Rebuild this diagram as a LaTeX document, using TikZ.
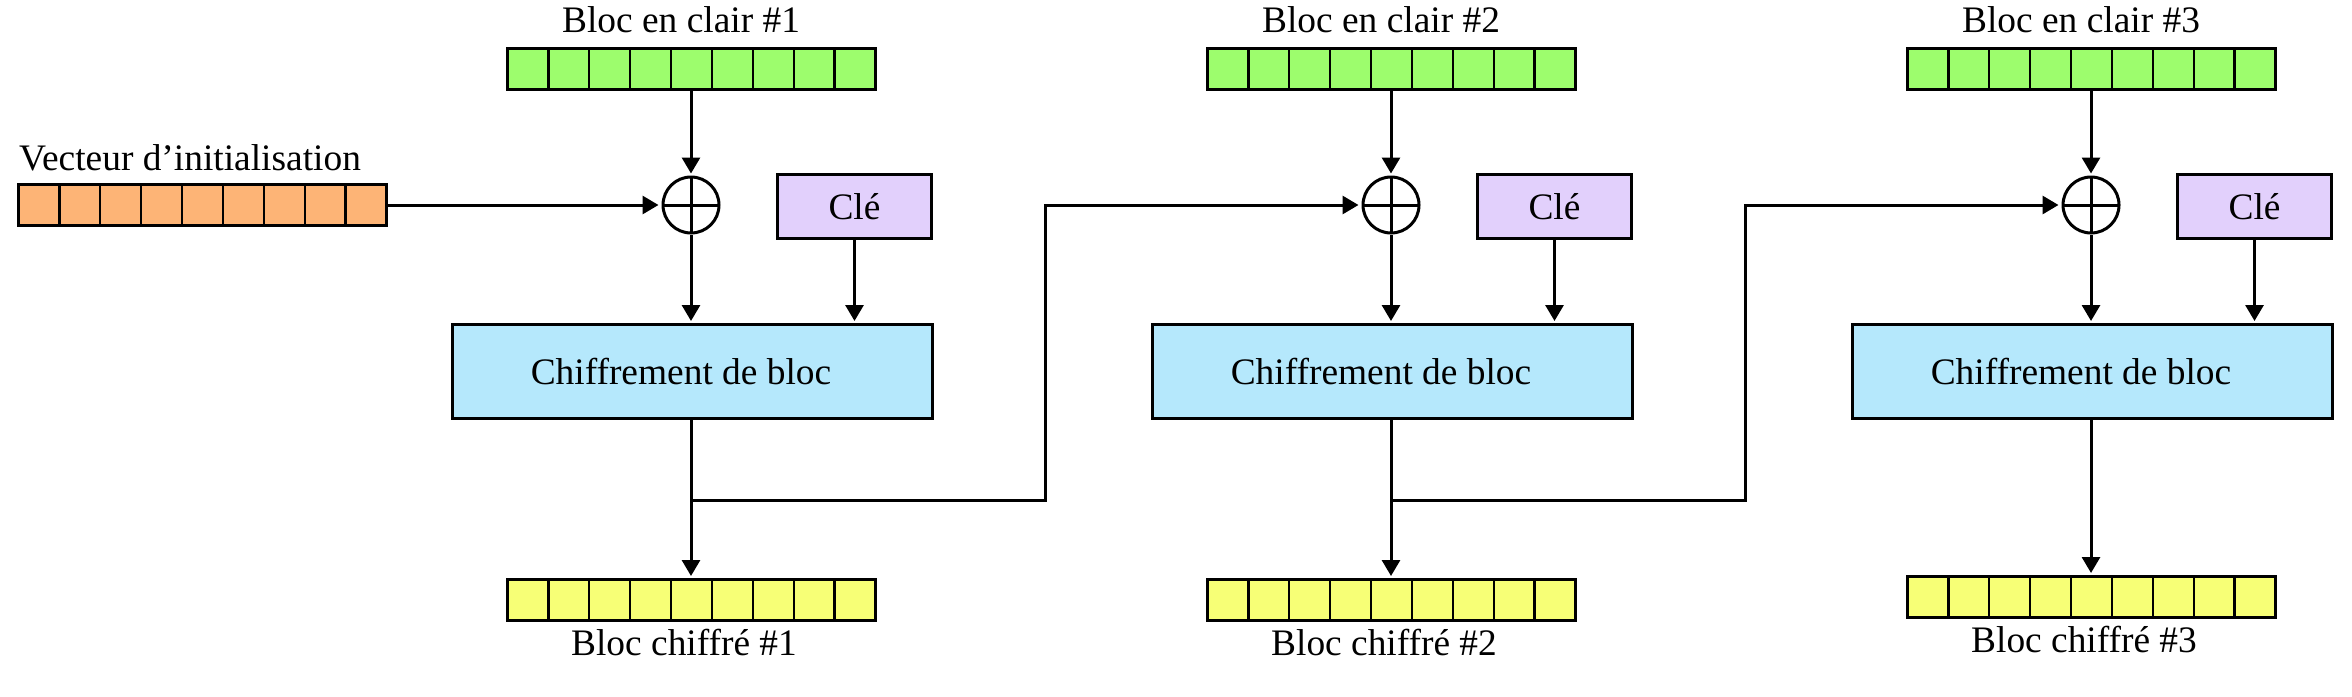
\documentclass[tikz,border=0pt]{standalone}
\usepackage{fontspec}
\setmainfont{Liberation Serif}
\usetikzlibrary{arrows.meta,calc}
\definecolor{cgreen}{HTML}{9DFD6D}
\definecolor{corange}{HTML}{FDB476}
\definecolor{ckey}{HTML}{E2D0FC}
\definecolor{cblue}{HTML}{B5E8FC}
\definecolor{cyellow}{HTML}{F7FF76}
\begin{document}
\begin{tikzpicture}[x=1pt,y=-1pt,
  txt/.style={font=\fontsize{37.4}{44}\selectfont, inner sep=0pt},
  cellbar/.style={draw, line width=3pt, minimum width=368pt, minimum height=41pt, inner sep=0pt,
    path picture={\foreach \i in {1,...,8}{\draw[line width=2.3pt]
      ($(path picture bounding box.north west)!\i/9!(path picture bounding box.north east)$) --
      ($(path picture bounding box.south west)!\i/9!(path picture bounding box.south east)$);}}},
  xorbox/.style={circle, draw, line width=3pt, minimum size=56pt, inner sep=0pt,
    path picture={\draw[line width=3pt]
      (path picture bounding box.north) -- (path picture bounding box.south)
      (path picture bounding box.west) -- (path picture bounding box.east);}},
  keybox/.style={draw, line width=3.2pt, fill=ckey, minimum width=153.8pt, minimum height=63.8pt, txt},
  cipherbox/.style={draw, line width=3.2pt, fill=cblue, minimum width=479.8pt, minimum height=93.8pt, txt},
  arr/.style={line width=3pt, -{Triangle[length=16pt,width=18pt]}},
  conn/.style={line width=3pt}
]
\useasboundingbox (0,0) rectangle (2352,696);

% initialisation vector
\node[txt, anchor=base west] (ivlbl) at (19,170) {Vecteur d’initialisation};
\node[cellbar, fill=corange] (iv) at (202.5,205) {};

\foreach \k/\cx/\dy in {1/691/0, 2/1391/0, 3/2091/-3}{
  \node[txt, anchor=base] (lt\k) at (\cx-10,32) {Bloc en clair \#\k};
  \node[cellbar, fill=cgreen] (g\k) at (\cx+0.5,69) {};
  \node[xorbox] (x\k) at (\cx,205) {};
  \node[keybox] (k\k) at (\cx+163.5,206.5) {Clé};
  \node[cipherbox] (c\k) at (\cx+1.5,371.5) {Chiffrement de bloc\hspace*{23pt}};
  \node[cellbar, fill=cyellow] (y\k) at (\cx+0.5,600+\dy) {};
  \node[txt, anchor=base] (lb\k) at (\cx-7,655+\dy) {Bloc chiffré \#\k};
  \draw[arr, shorten >=2pt] (g\k.south -| x\k) -- (x\k);
  \draw[arr, shorten >=2pt] (x\k) -- (x\k |- c\k.north);
  \draw[arr, shorten >=2pt] (k\k) -- (k\k |- c\k.north);
  \draw[arr, shorten >=2pt] (x\k |- c\k.south) -- (x\k |- y\k.north);
}

\draw[arr, shorten >=3pt] (iv.east) -- (x1.west);

\coordinate (t1) at (691,500);
\coordinate (b1) at (1045,500);
\draw[arr, shorten >=3pt] (t1) -- (b1) |- (x2.west);
\coordinate (t2) at (1391,500);
\coordinate (b2) at (1745,500);
\draw[arr, shorten >=3pt] (t2) -- (b2) |- (x3.west);
\end{tikzpicture}
\end{document}
